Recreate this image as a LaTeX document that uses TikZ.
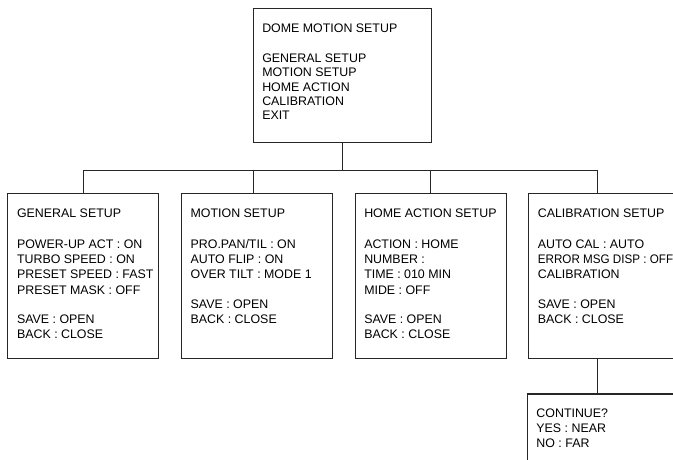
\documentclass[tikz,border=0pt]{standalone}
\usepackage{fontspec}
\setmainfont{Liberation Sans}
\usetikzlibrary{positioning}
\newcommand{\menupanel}[3]{\parbox[t][#1][t]{#2}{\strut #3}}

\begin{document}
\begin{tikzpicture}[x=1pt, y=-1pt, node distance=21.5pt, line width=1.1pt,
    menu/.style={shape=rectangle, draw=black!85, anchor=north west, inner xsep=9.2pt, inner ysep=13.9pt, font=\fontsize{12.4}{15.3}\selectfont},
    link/.style={draw=black!85}]
    \useasboundingbox (0, 0) rectangle (673, 459);
    \clip (0, 0) rectangle (673, 459);
    \node[menu, inner xsep=9pt, inner ysep=14pt, font=\fontsize{12.4}{14.3}\selectfont] at (252.7, 8.3) (dome) {\menupanel{106pt}{160pt}{DOME MOTION SETUP\\[15.4pt] GENERAL SETUP\\ MOTION SETUP\\ HOME ACTION\\ CALIBRATION\\ EXIT}};
    \node[menu] at (7.3, 192.7) (general) {\menupanel{137.8pt}{132.6pt}{GENERAL SETUP\\[15pt] POWER-UP ACT : ON\\ TURBO SPEED : ON\\ \mbox{PRESET SPEED : FAST}\\ PRESET MASK : OFF\\[14pt] SAVE : OPEN\\ BACK : CLOSE}};
    \node[menu, right=of general] (motion) {\menupanel{137.8pt}{132.6pt}{MOTION SETUP\\[15pt] PRO.PAN/TIL : ON\\ AUTO FLIP : ON\\ OVER TILT : MODE 1\\[14pt] SAVE : OPEN\\ BACK : CLOSE}};
    \node[menu, right=of motion] (home) {\menupanel{137.8pt}{132.6pt}{HOME ACTION SETUP\\[15pt] ACTION : HOME\\ NUMBER :\\ TIME : 010 MIN\\ MIDE : OFF\\[14pt] SAVE : OPEN\\ BACK : CLOSE}};
    \node[menu, right=of home] (calib) {\menupanel{137.8pt}{132.6pt}{CALIBRATION SETUP\\[15pt] AUTO CAL : AUTO\\ \scalebox{0.94}[1]{ERROR MSG DISP : OFF}\\ CALIBRATION\\[14pt] SAVE : OPEN\\ BACK : CLOSE}};
    \node[menu, below=34pt of calib.south west, anchor=north west, xshift=-1.4pt, inner ysep=12.7pt] (cont) {\menupanel{80pt}{132.6pt}{CONTINUE?\\ YES : NEAR\\ NO : FAR}};
    \coordinate (bus) at (0, 170.7);
    \foreach \tab/\dx in {general/0, motion/-3.8, home/0, calib/-6.9}
        \coordinate (\tab-top) at ([xshift=\dx pt]\tab.north);
    \coordinate (calib-foot) at ([xshift=-6.9pt]calib.south);
    \draw[link] (dome.south) -- (dome.south |- bus);
    \draw[link] (general-top) -- (general-top |- bus) -- (calib-top |- bus) -- (calib-top);
    \draw[link] (motion-top) -- (motion-top |- bus);
    \draw[link] (home-top) -- (home-top |- bus);
    \draw[link] (calib-foot) -- (calib-foot |- cont.north);
\end{tikzpicture}
\end{document}
